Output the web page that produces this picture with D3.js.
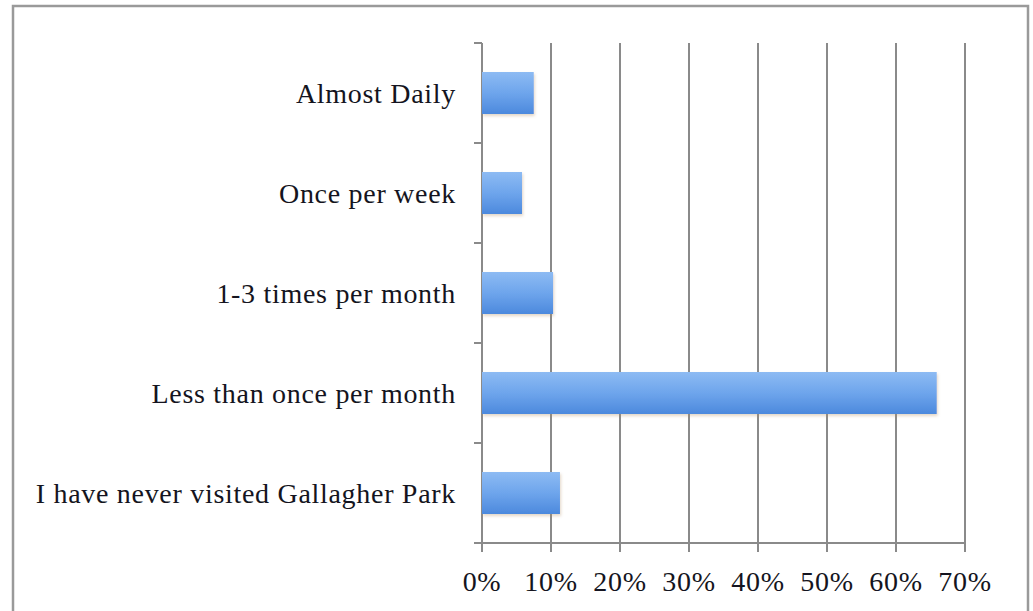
<!DOCTYPE html>
<html>
<head>
<meta charset="utf-8">
<script src="https://cdn.jsdelivr.net/npm/d3@7"></script>
<style>
  body { margin: 0; background: #fff; }
  svg { display: block; }
</style>
</head>
<body>
<div class="viz"></div>
<script>
// survey answers: how often respondents visit the park
const categories = ['Almost Daily', 'Once per week', '1-3 times per month', 'Less than once per month', 'I have never visited Gallagher Park'];
const values = [0.075, 0.058, 0.103, 0.659, 0.113];
const ticks = [0, 0.1, 0.2, 0.3, 0.4, 0.5, 0.6, 0.7];

const W = 1033;
const H = 611;
const margin = { top: 43, right: 68, bottom: 68, left: 482 };
const width = W - margin.left - margin.right;
const height = H - margin.top - margin.bottom;
const font = 'Liberation Serif, DejaVu Serif, serif';

const svg = d3.select('.viz')
  .append('svg')
  .attr('width', W)
  .attr('height', H);

// gradient for the bars, lighter at the top
const grad = svg.append('defs')
  .append('linearGradient')
  .attr('id', 'bar-grad')
  .attr('x1', 0).attr('x2', 0)
  .attr('y1', 0).attr('y2', 1);
grad.append('stop').attr('offset', 0).attr('stop-color', '#8dbbf3');
grad.append('stop').attr('offset', 0.5).attr('stop-color', '#6ea5ec');
grad.append('stop').attr('offset', 1).attr('stop-color', '#4c89dd');

svg.select('defs')
  .append('filter')
  .attr('id', 'shadow')
  .append('feDropShadow')
  .attr('dx', 1).attr('dy', 2)
  .attr('stdDeviation', 1.5)
  .attr('flood-color', '#b08a60')
  .attr('flood-opacity', 0.35);

// frame round the chart
svg.append('rect')
  .attr('x', 13).attr('y', 6)
  .attr('width', 1015).attr('height', 610)
  .attr('fill', 'none')
  .attr('stroke', '#9a9a9a')
  .attr('stroke-width', 2.5);

const g = svg.append('g')
  .attr('transform', `translate(${margin.left} ${margin.top})`);

const x = d3.scaleLinear()
  .domain([0, 0.7])
  .range([0, width]);

const y = d3.scaleBand()
  .domain(categories)
  .range([0, height])
  .paddingInner(0.58)
  .paddingOuter(0.29);

// vertical grid lines, extended below the axis as ticks
g.append('g')
  .attr('class', 'grid')
  .selectAll('line')
  .data(ticks)
  .join('line')
  .attr('x1', d => x(d)).attr('x2', d => x(d))
  .attr('y1', 0).attr('y2', height + 9)
  .attr('stroke', '#8a8a8a')
  .attr('stroke-width', 2);

// category ticks on the left
const bandEdges = categories.map(c => y(c) - y.step() * y.paddingInner() / 2);
bandEdges.push(height);
g.append('g')
  .selectAll('line')
  .data(bandEdges)
  .join('line')
  .attr('x1', -8).attr('x2', 0)
  .attr('y1', (d, i) => i === 0 ? 0 : d)
  .attr('y2', (d, i) => i === 0 ? 0 : d)
  .attr('stroke', '#8a8a8a')
  .attr('stroke-width', 2);

// bottom axis line
g.append('line')
  .attr('x1', -8).attr('x2', x(0.7))
  .attr('y1', height).attr('y2', height)
  .attr('stroke', '#8a8a8a')
  .attr('stroke-width', 2);

// bars
g.append('g')
  .selectAll('rect')
  .data(categories)
  .join('rect')
  .attr('x', x(0))
  .attr('y', d => y(d))
  .attr('width', (d, i) => x(values[i]) - x(0))
  .attr('height', y.bandwidth())
  .attr('fill', 'url(#bar-grad)')
  .attr('filter', 'url(#shadow)');

// category labels
g.append('g')
  .selectAll('text')
  .data(categories)
  .join('text')
  .attr('x', -26)
  .attr('y', d => y(d) + y.bandwidth() / 2)
  .attr('dy', '0.35em')
  .attr('text-anchor', 'end')
  .attr('font-family', font)
  .attr('font-size', 28)
  .attr('letter-spacing', 0.7)
  .attr('fill', '#141420')
  .text(d => d);

// percentage labels
g.append('g')
  .selectAll('text')
  .data(ticks)
  .join('text')
  .attr('x', d => x(d))
  .attr('y', height + 48)
  .attr('text-anchor', 'middle')
  .attr('font-family', font)
  .attr('font-size', 28)
  .attr('letter-spacing', 0.7)
  .attr('fill', '#141420')
  .text(d => d3.format('.0%')(d));
</script>
</body>
</html>
